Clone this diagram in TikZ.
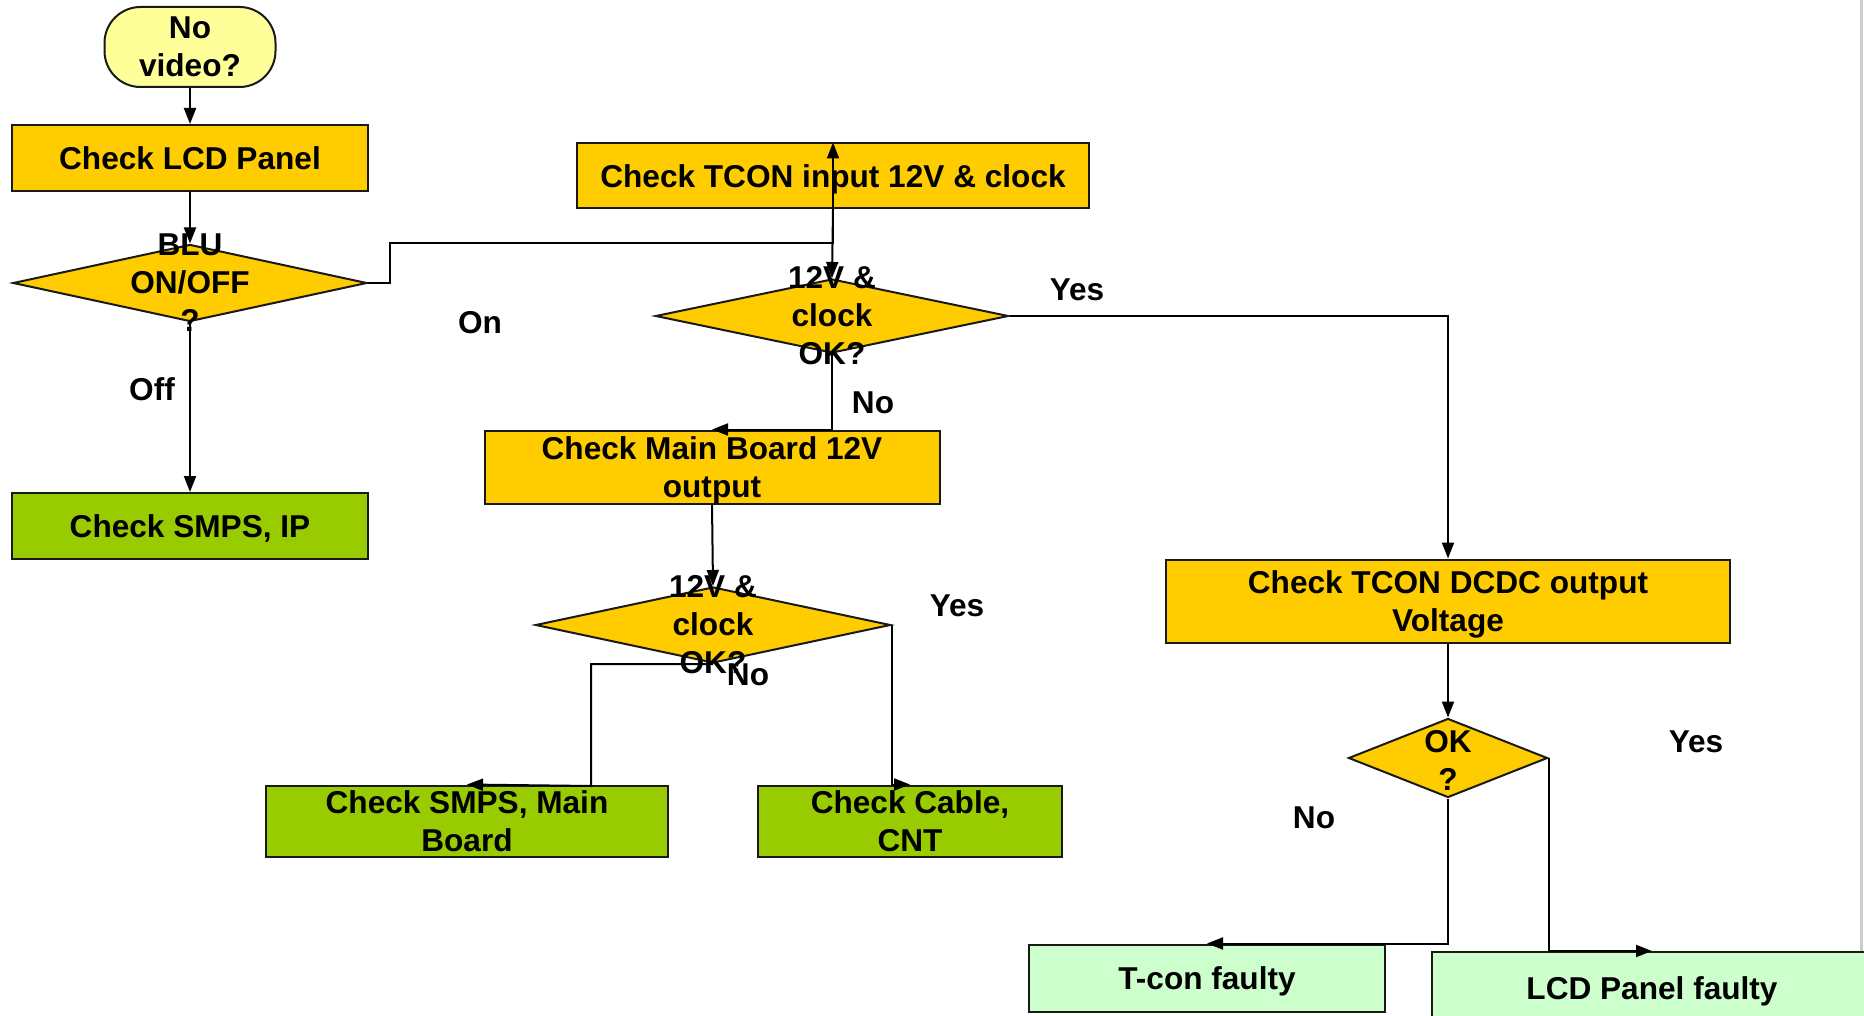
\documentclass[tikz,border=0pt]{standalone}
\usepackage{fontspec}
\setmainfont{Liberation Sans}
\usetikzlibrary{shapes.geometric,arrows.meta}
\definecolor{boxorange}{HTML}{FFCC00}
\definecolor{boxgreen}{HTML}{99CC00}
\definecolor{palegreen}{HTML}{CCFFCC}
\definecolor{termyellow}{HTML}{FFFF99}
\begin{document}
\begin{tikzpicture}[x=1pt,y=-1pt,
    every node/.style={font=\fontsize{31.6}{38}\selectfont\bfseries,align=center},
    box/.style={draw=black!90,line width=2pt,inner sep=0pt,text depth=0pt},
    term/.style={box,fill=termyellow,rounded corners=36pt},
    dia/.style={box,diamond,fill=boxorange},
    arr/.style={line width=2pt,-{Triangle[length=16pt,width=12pt]}}]
  \useasboundingbox (0,0) rectangle (1864,1016);
  \draw[gray!40,line width=3pt] (1861,0) -- (1861,952);
  \node[term,minimum width=171pt,minimum height=80pt] (start) at (190,47) {No\\video?};
  \node[box,fill=boxorange,minimum width=356pt,minimum height=66pt] (lcd) at (190,158) {Check LCD Panel};
  \node[dia,minimum width=354pt,minimum height=77pt] (blu) at (190,283) {};
  \node (blutext) at (190,283) {BLU\\ON/OFF\\?};
  \node[box,fill=boxgreen,minimum width=356pt,minimum height=66pt] (smpsip) at (190,526) {Check SMPS, IP};
  \node[box,fill=boxorange,minimum width=512pt,minimum height=65pt] (tcon) at (833,176) {Check TCON input 12V \& clock};
  \node[dia,minimum width=353pt,minimum height=74pt] (clk) at (832,316) {};
  \node (clktext) at (832,316) {12V \&\\clock\\OK?};
  \node[box,fill=boxorange,minimum width=455pt,minimum height=73pt] (mainb) at (712,467) {Check Main Board 12V\\output};
  \node[dia,minimum width=355pt,minimum height=76pt] (clkb) at (713,625) {};
  \node (clkbtext) at (713,625) {12V \&\\clock\\OK?};
  \node[box,fill=boxgreen,minimum width=402pt,minimum height=71pt] (smpsmb) at (467,821) {Check SMPS, Main\\Board};
  \node[box,fill=boxgreen,minimum width=304pt,minimum height=71pt] (cable) at (910,821) {Check Cable,\\CNT};
  \node[box,fill=boxorange,minimum width=564pt,minimum height=83pt] (dcdc) at (1448,601) {Check TCON DCDC output\\Voltage};
  \node[dia,minimum width=199pt,minimum height=79pt] (ok) at (1448,758) {};
  \node (oktext) at (1448,760) {OK\\?};
  \node[box,fill=palegreen,minimum width=356pt,minimum height=67pt] (tconf) at (1207,978) {T-con faulty};
  \node[box,fill=palegreen,minimum width=440pt,minimum height=72pt] (lcdf) at (1652,988) {LCD Panel faulty};
  \node (onlbl) at (480,323) {On};
  \node (offlbl) at (152,389) {Off};
  \node (yesa) at (1077,290) {Yes};
  \node (noa) at (873,403) {No};
  \node (yesb) at (957,606) {Yes};
  \node (nob) at (748,675) {No};
  \node (yesc) at (1696,742) {Yes};
  \node (noc) at (1314,818) {No};
  \coordinate (onbend) at (390,243);
  \coordinate (nodown) at (591,786);
  \draw[arr] (start.south) -- (lcd.north);
  \draw[arr] (lcd.south) -- (blu.north);
  \draw[arr] (blu.south) -- (smpsip.north);
  \draw[arr] (blu.east) -| (onbend) -- (onbend -| tcon.north) -- (tcon.north);
  \draw[arr] (tcon.south) -- (clk.north);
  \draw[arr] (clk.east) -| (dcdc.north);
  \draw[arr] (clk.south) |- (mainb.north);
  \draw[arr] (mainb.south) -- (clkb.north);
  \draw[arr] (clkb.south) -| (nodown) -- (smpsmb.north);
  \draw[arr] (clkb.east) |- (cable.north);
  \draw[arr] (dcdc.south) -- (ok.north);
  \draw[arr] (ok.south) |- (tconf.north);
  \draw[arr] (ok.east) |- (lcdf.north);
\end{tikzpicture}
\end{document}
